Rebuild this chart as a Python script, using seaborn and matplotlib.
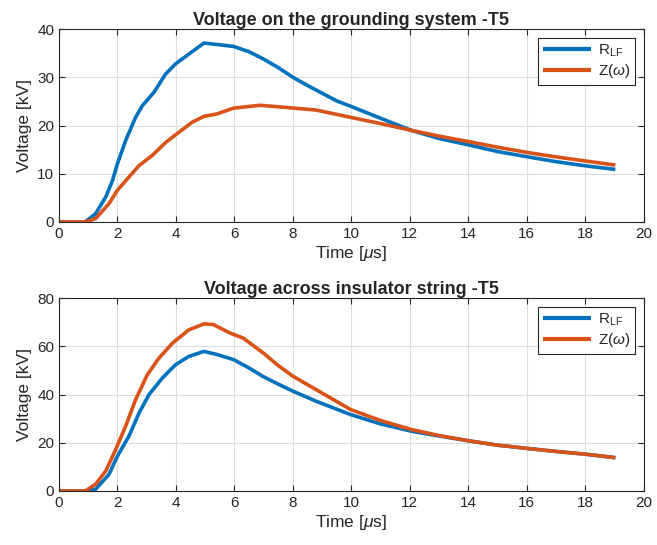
import numpy as np
import pandas as pd
import matplotlib
matplotlib.use("Agg")
import matplotlib.pyplot as plt
import seaborn as sns

# ---- data ----
t_g_r = [0, 0.80, 0.91, 1.25, 1.6, 1.83, 2.0, 2.28, 2.62, 2.85, 3.25, 3.65, 3.99, 4.44, 4.96,
         5.4, 5.97, 6.5, 6.99, 7.5, 8.0, 8.5, 9.03, 9.5, 9.97, 11.0, 12.05, 13.0, 14.07, 15.0, 16.13, 17.0, 18.06, 19.03]
v_g_r = [0, 0, 0.1, 1.7, 5.2, 8.6, 12.1, 16.9, 21.7, 24.1, 26.9, 30.7, 32.8, 34.8, 37.1,
         36.8, 36.4, 35.3, 33.8, 32.0, 30.0, 28.3, 26.6, 25.1, 24.0, 21.5, 19.0, 17.3, 15.9, 14.6, 13.4, 12.5, 11.6, 10.9]
t_g_z = [0, 0.80, 0.95, 1.25, 1.71, 2.0, 2.39, 2.74, 3.19, 3.65, 4.1, 4.56, 4.96,
         5.4, 5.97, 6.88, 7.67, 8.8, 9.97, 11.0, 12.05, 13.0, 14.07, 15.0, 16.13, 17.0, 18.06, 19.03]
v_g_z = [0, 0, 0.1, 0.7, 3.8, 6.6, 9.3, 11.7, 13.8, 16.5, 18.6, 20.7, 21.9,
         22.4, 23.6, 24.2, 23.8, 23.2, 21.7, 20.4, 19.0, 17.8, 16.6, 15.5, 14.3, 13.5, 12.6, 11.8]

t_i_r = [0, 0.80, 0.95, 1.25, 1.71, 2.0, 2.39, 2.74, 3.08, 3.54, 3.99, 4.44, 4.96,
         5.4, 5.97, 6.5, 6.99, 7.5, 8.0, 8.8, 9.97, 11.0, 12.05, 13.0, 14.07, 15.0, 16.13, 17.0, 18.06, 19.03]
v_i_r = [0, 0, 0.1, 0.7, 6.9, 14.5, 22.7, 32.4, 40.0, 46.9, 52.4, 55.8, 57.9,
         56.6, 54.5, 51.0, 47.4, 44.3, 41.4, 37.2, 31.7, 27.8, 24.8, 22.8, 20.7, 19.0, 17.5, 16.4, 15.2, 13.8]
t_i_z = [0, 0.80, 0.91, 1.25, 1.6, 1.94, 2.28, 2.62, 3.02, 3.42, 3.88, 4.44, 4.96,
         5.28, 5.85, 6.3, 6.99, 7.5, 8.0, 8.8, 9.97, 11.0, 12.05, 13.0, 14.07, 15.0, 16.13, 17.0, 18.06, 19.03]
v_i_z = [0, 0, 0.1, 2.8, 8.3, 17.2, 26.9, 37.9, 48.2, 55.1, 61.3, 66.8, 69.3,
         69.0, 65.5, 63.4, 57.2, 52.0, 47.6, 42.0, 33.8, 29.2, 25.5, 23.0, 20.7, 19.0, 17.5, 16.4, 15.2, 13.8]

labels = ["R$_{\\mathrm{LF}}$", "Z($\\omega$)"]
titles = ["Voltage on the grounding system -T5", "Voltage across insulator string -T5"]
xticks = [0, 2, 4, 6, 8, 10, 12, 14, 16, 18, 20]
yticks_top = [0, 10, 20, 30, 40]
yticks_bot = [0, 20, 40, 60, 80]

colors = ["#0072BD", "#D95319"]

sns.set_theme(style="white")
plt.rcParams["font.family"] = ["Liberation Sans", "DejaVu Sans"]
plt.rcParams["mathtext.fontset"] = "custom"
plt.rcParams["mathtext.rm"] = "Liberation Sans"
plt.rcParams["mathtext.it"] = "Liberation Sans:italic"

fig = plt.figure(figsize=(6.57, 5.45), dpi=100)
ax1 = fig.add_axes([0.0898, 0.5927, 0.890, 0.354])
ax2 = fig.add_axes([0.0898, 0.0991, 0.890, 0.354])


def make_df(tr, vr, tz, vz):
    return pd.concat([
        pd.DataFrame({"t": tr, "v": vr, "s": labels[0]}),
        pd.DataFrame({"t": tz, "v": vz, "s": labels[1]}),
    ], ignore_index=True)


panels = [
    (ax1, make_df(t_g_r, v_g_r, t_g_z, v_g_z), titles[0], yticks_top, 40),
    (ax2, make_df(t_i_r, v_i_r, t_i_z, v_i_z), titles[1], yticks_bot, 80),
]

for ax, df, title, yt, ymax in panels:
    sns.lineplot(data=df, x="t", y="v", hue="s", palette=colors, linewidth=2.6,
                 ax=ax, sort=False, estimator=None)
    for ln in ax.get_lines():
        ln.set_solid_joinstyle("round")
        ln.set_solid_capstyle("butt")
    ax.set_xlim(0, 20)
    ax.set_ylim(0, ymax)
    ax.set_xticks(xticks)
    ax.set_yticks(yt)
    ax.grid(True, color="#dcdcdc", linewidth=0.8)
    for sp in ax.spines.values():
        sp.set_visible(True)
        sp.set_color("#262626")
        sp.set_linewidth(0.8)
    ax.tick_params(direction="in", length=4, top=True, right=True, bottom=True, left=True,
                   labelsize=11, colors="#262626", width=0.8)
    ax.set_title(title, fontsize=13, fontweight="bold", pad=3)
    ax.set_xlabel("Time [$\\mu$s]", fontsize=12.5, labelpad=2)
    ax.set_ylabel("Voltage [kV]", fontsize=12.5, labelpad=4)
    leg = ax.legend(loc="upper right", fontsize=11, frameon=True, fancybox=False,
                    edgecolor="#262626", framealpha=1, handlelength=3.2,
                    borderaxespad=0.6, borderpad=0.3, labelspacing=0.2, handletextpad=0.4)
    leg.get_frame().set_linewidth(0.8)
    for h in leg.get_lines():
        h.set_linewidth(3.0)
    leg.set_title(None)

fig.savefig("out.png", dpi=100)
